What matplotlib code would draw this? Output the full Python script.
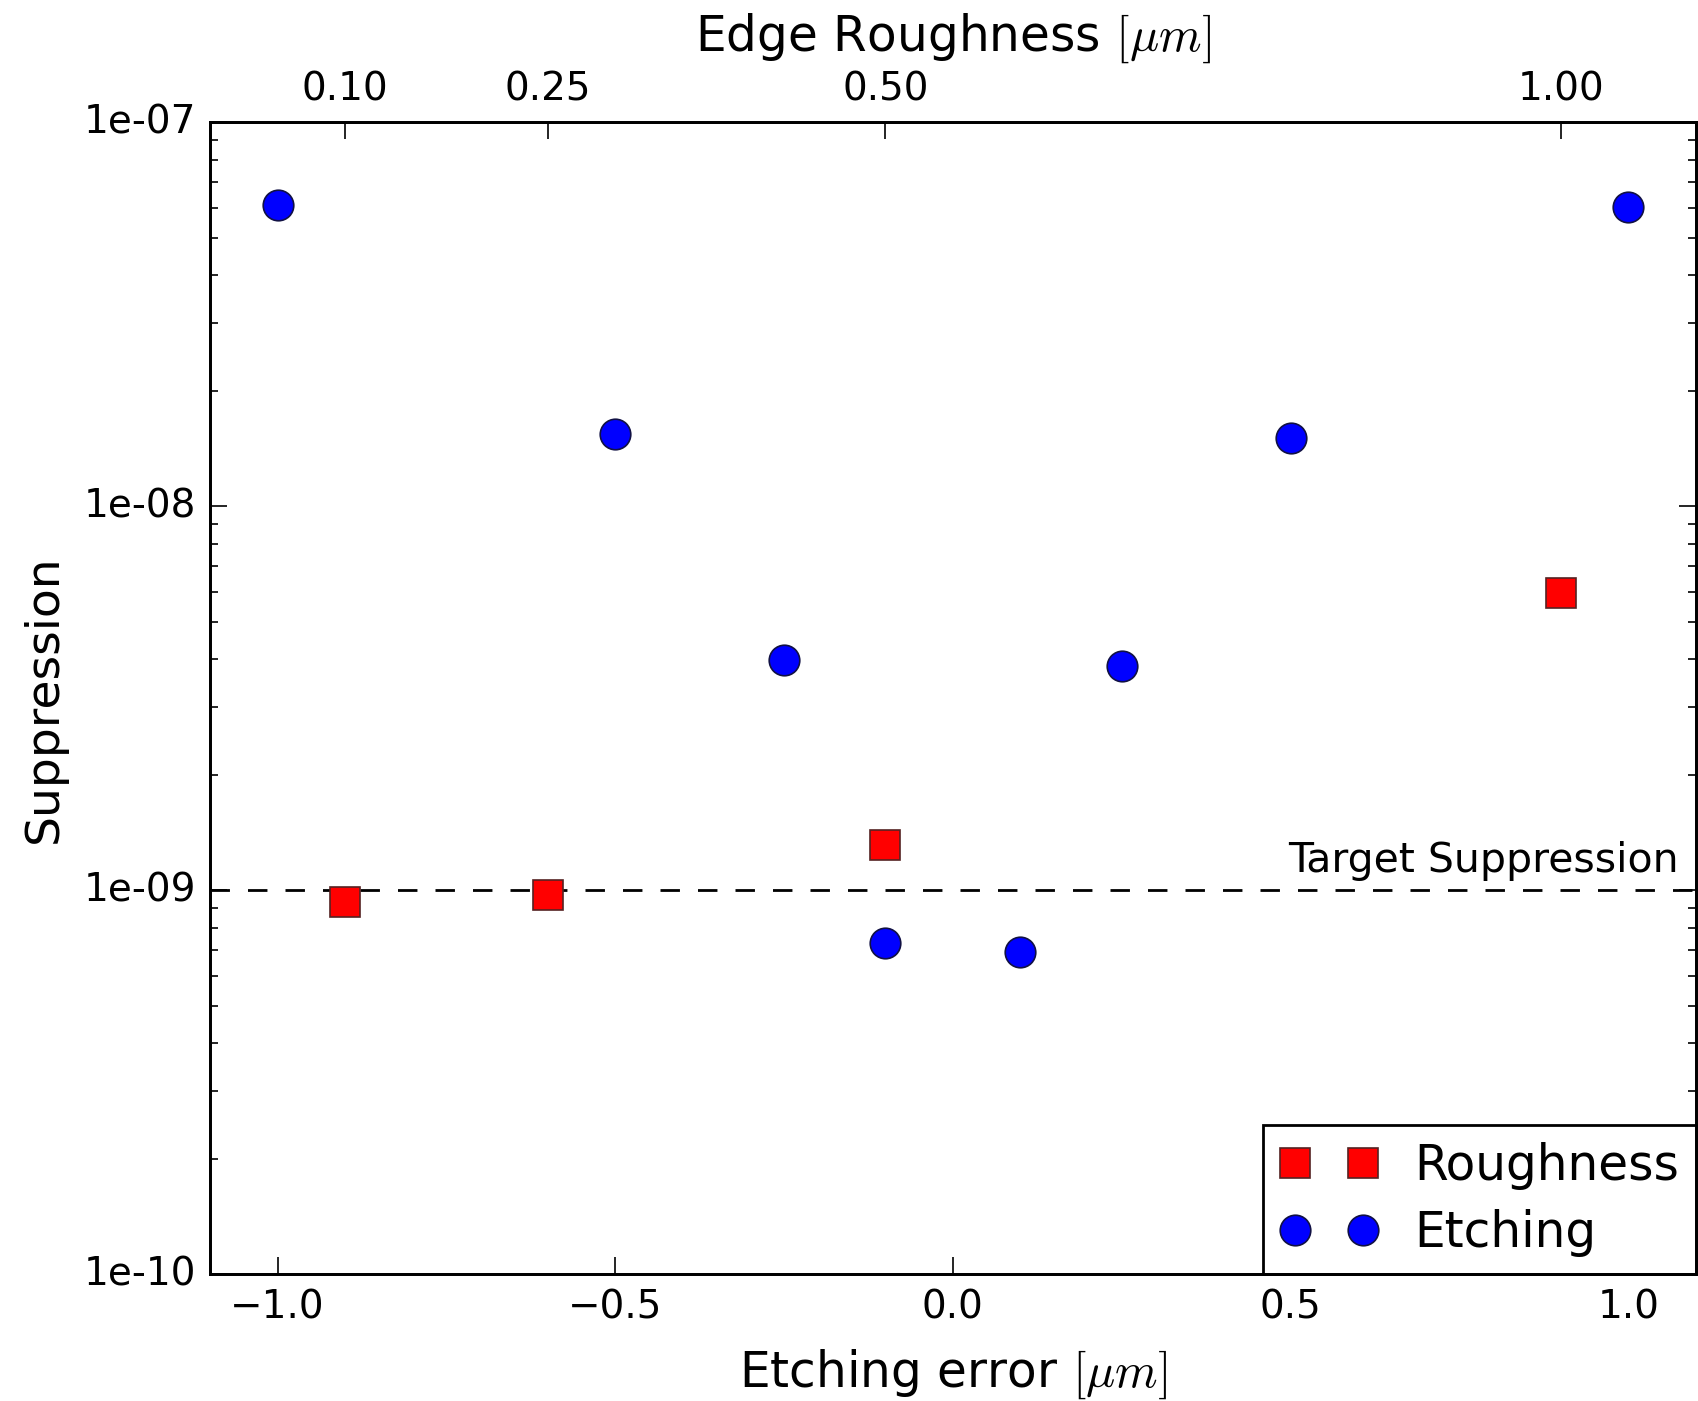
import matplotlib
matplotlib.use('Agg')
import matplotlib.pyplot as plt
from matplotlib.ticker import FuncFormatter, LogLocator, NullFormatter

plt.style.use('classic')
plt.rcParams['mathtext.fontset'] = 'cm'

# Etching error scan
etch_err = [-1.0, -0.5, -0.25, -0.1, 0.1, 0.25, 0.5, 1.0]
etch_supp = [6.1e-8, 1.54e-8, 3.98e-9, 7.3e-10, 6.9e-10, 3.85e-9, 1.51e-8, 6.03e-8]

# Edge roughness scan
rough = [0.10, 0.25, 0.50, 1.00]
rough_supp = [9.3e-10, 9.7e-10, 1.31e-9, 5.96e-9]

target = 1e-9
rough_ticks = [0.10, 0.25, 0.50, 1.00]

fig = plt.figure(figsize=(16.98, 14.01), dpi=100, facecolor='white')
ax = fig.add_axes([0.1237, 0.0904, 0.875, 0.8223])
ax.set_facecolor('white')
ax2 = ax.twiny()

l1, = ax2.plot(rough, rough_supp, 's', color='red', ms=21.5, mew=1.2,
               mec='#552222', label='Roughness')
l2, = ax.plot(etch_err, etch_supp, 'o', color='blue', ms=22, mew=1.2,
              mec='#111144', label='Etching')
ax.axhline(target, color='k', ls='--', lw=2, dashes=(14, 13))
ax.text(1.075, target * 1.06, 'Target Suppression', ha='right', va='bottom',
        fontsize=29.5)

ax.set_yscale('log')
ax.set_ylim(1e-10, 1e-7)
ax.set_xlim(-1.1, 1.1)
ax2.set_xlim(0, 1.1)
ax2.set_yscale('log')
ax2.set_ylim(1e-10, 1e-7)

ax.set_xticks([-1.0, -0.5, 0.0, 0.5, 1.0])
ax.xaxis.set_major_formatter(FuncFormatter(lambda v, p: ('%.1f' % v).replace('-', '\u2212')))
ax.yaxis.set_major_locator(LogLocator(base=10))
ax.yaxis.set_major_formatter(FuncFormatter(lambda v, p: '%.0e' % v))
ax.yaxis.set_minor_formatter(NullFormatter())
ax2.set_xticks(rough_ticks)
ax2.xaxis.set_major_formatter(FuncFormatter(lambda v, p: '%.2f' % v))

for a in (ax, ax2):
    a.tick_params(which='major', labelsize=28, length=12, width=1.2, pad=10)
    a.tick_params(which='minor', length=6, width=1.2)
    for s in a.spines.values():
        s.set_linewidth(2)
ax.xaxis.set_minor_locator(plt.NullLocator())
ax2.xaxis.set_minor_locator(plt.NullLocator())

ax.set_xlabel(r'Etching error $[\mu m]$', fontsize=35, labelpad=15)
ax.set_ylabel('Suppression', fontsize=34, labelpad=12)
ax2.set_xlabel(r'Edge Roughness $[\mu m]$', fontsize=35, labelpad=14)

leg = ax.legend([l1, l2], ['Roughness', 'Etching'], loc='lower right',
                numpoints=2, fontsize=35, borderaxespad=0, handlelength=2.0,
                handletextpad=0.75, borderpad=0.35, labelspacing=0.4)
leg.get_frame().set_linewidth(2)

fig.savefig('out.png', dpi=100, facecolor='white')
